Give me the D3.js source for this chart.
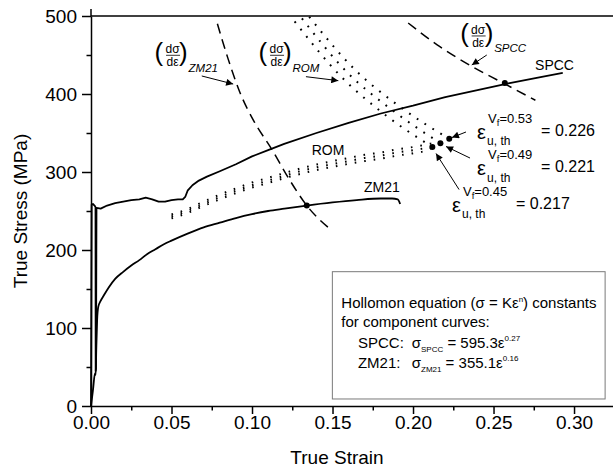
<!DOCTYPE html>
<html><head><meta charset="utf-8">
<script src="https://cdn.jsdelivr.net/npm/d3@7"></script>
<style>
body{margin:0;background:#fff}
svg{display:block}
text{font-family:"Liberation Sans",Arial,sans-serif;fill:#000}
</style>
</head><body>
<svg id="c" width="613" height="472"></svg>
<script>
// ---- tick labels ----
const xMajorTicks = [0, 0.05, 0.10, 0.15, 0.20, 0.25, 0.30];
const xMinorTicks = [0.025, 0.075, 0.125, 0.175, 0.225, 0.275];
const yMajorTicks = [0, 100, 200, 300, 400, 500];
const yMinorTicks = [50, 150, 250, 350, 450];

// ---- SPCC true stress-strain ----
const spccStrain = [0, 0.0004, 0.0012, 0.0022, 0.0028, 0.0029, 0.0031, 0.0034, 0.006, 0.010, 0.015, 0.020, 0.025, 0.030, 0.034, 0.038, 0.042, 0.046, 0.050, 0.054, 0.057, 0.0585, 0.060, 0.063, 0.067, 0.072, 0.08, 0.09, 0.10, 0.11, 0.12, 0.14, 0.16, 0.18, 0.20, 0.22, 0.24, 0.26, 0.28, 0.293];
const spccStress = [0, 258, 259, 257, 255, 45, 48, 254, 253, 257, 260, 262, 264, 265, 267, 265, 262, 262, 264, 265, 265, 268, 276, 283, 289, 294, 301, 310, 320, 328, 336, 350, 363, 375, 385, 396, 405, 414, 422, 427];

// ---- ZM21 true stress-strain ----
const zm21Strain = [0, 0.0012, 0.0025, 0.0029, 0.0033, 0.0038, 0.0045, 0.0058, 0.008, 0.011, 0.015, 0.02, 0.025, 0.03, 0.035, 0.04, 0.045, 0.05, 0.06, 0.07, 0.08, 0.09, 0.10, 0.11, 0.12, 0.134, 0.15, 0.165, 0.18, 0.187, 0.1905, 0.192];
const zm21Stress = [0, 20, 42, 40, 75, 110, 127, 134, 142, 152, 163, 172, 180, 187, 195, 201, 207, 212, 221, 229, 235, 241, 246, 250, 253, 257, 261, 264, 266, 266, 265, 259];

// ---- ROM curves (Vf = 0.45, 0.49, 0.53) ----
const romStrain45 = [0.05,0.06,0.07,0.08,0.09,0.10,0.11,0.12,0.13,0.14,0.15,0.16,0.17,0.18,0.19,0.20,0.21,0.212];
const romStress45 = [240.5,247.5,256.5,265,273,280,286,292,297.5,302.5,306.5,310.5,314,317,321,324,329,332];
const romStrain49 = [0.05,0.06,0.07,0.08,0.09,0.10,0.11,0.12,0.13,0.14,0.15,0.16,0.17,0.18,0.19,0.20,0.21,0.217];
const romStress49 = [243,250,259,268,276,283,289,295,301,306,310,314,318,321,325,328,332,337];
const romStrain53 = [0.05,0.06,0.07,0.08,0.09,0.10,0.11,0.12,0.13,0.14,0.15,0.16,0.17,0.18,0.19,0.20,0.21,0.22,0.2225];
const romStress53 = [245.5,252.5,262,271,279,286.5,292.5,298.5,304.5,309.5,314,318,322,325,329,332,336,340,342.5];

// ---- d(sigma)/d(eps) curves ----
const dZmStrain = [0.0785, 0.085, 0.0925, 0.1015, 0.112, 0.123, 0.134, 0.149];
const dZmStress = [490, 446, 402, 364, 330, 291, 257, 226];
const dSpStrain = [0.197, 0.215, 0.2335, 0.256, 0.276];
const dSpStress = [491, 463, 439, 414, 392];
const dRom45Strain = [0.1265, 0.155, 0.181, 0.212];
const dRom45Stress = [493, 423, 376, 332];
const dRom49Strain = [0.131, 0.159, 0.186, 0.217];
const dRom49Stress = [497, 428, 381, 337];
const dRom53Strain = [0.1355, 0.164, 0.191, 0.2225];
const dRom53Stress = [499, 431, 385, 342.5];

// ---- intersection points ----
const dotStrain = [0.134, 0.257, 0.212, 0.217, 0.2225];
const dotStress = [257, 414, 332, 337, 342.5];

// ---- annotations (data coords) ----
const arrowFrom = [[0.0688,423.1],[0.1335,422.2],[0.2458,450],[0.2329,351.3],[0.2354,317.9],[0.2286,277.5]];
const arrowTo   = [[0.0883,412.8],[0.1536,417.1],[0.2365,437.2],[0.2242,344.2],[0.2205,332.7],[0.2143,323.7]];
const curveLabels = ["SPCC", "ROM", "ZM21"];
const curveLabelPos = [[0.2758,430.8],[0.1371,321.8],[0.1696,274.4]];
const derivSubs = ["ZM21", "ROM", "SPCC"];
const derivPos = [[0.0404,449.6],[0.105,449.6],[0.2302,474.4]];
const epsVf = ["0.53", "0.49", "0.45"];
const epsVal = ["0.226", "0.221", "0.217"];
const epsPos = [[0.2398,346.2],[0.2398,299.4],[0.2242,252.8]];
const boxCorners = [[0.1499,172.2],[0.3193,9]];

const svg = d3.select("#c");
const x = d3.scaleLinear().domain([0, 0.3242]).range([91, 613]);
const y = d3.scaleLinear().domain([0, 500]).range([406, 16]);

const defs = svg.append("defs");
defs.append("marker").attr("id","ah").attr("viewBox","0 0 10 10")
  .attr("refX",10).attr("refY",5).attr("markerWidth",10).attr("markerHeight",7)
  .attr("markerUnits","userSpaceOnUse").attr("orient","auto")
  .append("path").attr("d","M0,0 L10,5 L0,10 z").attr("fill","#000");

// legend box
svg.append("rect")
  .attr("x", x(boxCorners[0][0])).attr("y", y(boxCorners[0][1]))
  .attr("width", x(boxCorners[1][0]) - x(boxCorners[0][0]))
  .attr("height", y(boxCorners[1][1]) - y(boxCorners[0][1]))
  .attr("fill","#fff").attr("stroke","#7a7a7a").attr("stroke-width",1);

// axes
function styleAxis(g, fs){
  g.attr("font-family", '"Liberation Sans",Arial,sans-serif').attr("font-size", fs);
  g.selectAll("path.domain").attr("stroke","#000").attr("stroke-width",1.5);
  g.selectAll(".tick line").attr("stroke","#000").attr("stroke-width",1.5);
  g.selectAll(".tick text").attr("fill","#000");
}
const gxMinor = svg.append("g").attr("transform",`translate(0,${y(0)})`)
  .call(d3.axisBottom(x).tickValues(xMinorTicks).tickFormat("").tickSize(4.5).tickSizeOuter(0));
styleAxis(gxMinor, 19); gxMinor.select("path.domain").remove();
const gyMinor = svg.append("g").attr("transform",`translate(${x(0)},0)`)
  .call(d3.axisLeft(y).tickValues(yMinorTicks).tickFormat("").tickSize(4.5).tickSizeOuter(0));
styleAxis(gyMinor, 19); gyMinor.select("path.domain").remove();

const gx = svg.append("g").attr("transform",`translate(0,${y(0)})`)
  .call(d3.axisBottom(x).tickValues(xMajorTicks).tickFormat(d3.format(".2f")).tickSize(8).tickPadding(2).tickSizeOuter(0));
styleAxis(gx, 19);
const gy = svg.append("g").attr("transform",`translate(${x(0)},0)`)
  .call(d3.axisLeft(y).tickValues(yMajorTicks).tickFormat(d3.format("d")).tickSize(9).tickPadding(5).tickSizeOuter(0));
styleAxis(gy, 19);

// top frame line & y-axis extension
svg.append("line").attr("x1",x(0)).attr("x2",x(x.domain()[1])).attr("y1",y(500)).attr("y2",y(500))
  .attr("stroke","#000").attr("stroke-width",1.5);
svg.append("line").attr("x1",x(0)).attr("x2",x(0)).attr("y1",y(500)).attr("y2",y(500)-7)
  .attr("stroke","#000").attr("stroke-width",1.5);

// axis titles
svg.append("text").attr("x", 337).attr("y", 464).attr("text-anchor","middle")
  .attr("font-size",19).text("True Strain");
svg.append("text").attr("transform","translate(27,211) rotate(-90)").attr("text-anchor","middle")
  .attr("font-size",19).text("True Stress (MPa)");

// curve drawing helper
function drawCurve(xs, ys, opts){
  const pts = xs.map((d,i)=>[d, ys[i]]);
  const line = d3.line().x(d=>x(d[0])).y(d=>y(d[1])).curve(opts.curve || d3.curveLinear);
  svg.append("path").datum(pts).attr("d", line).attr("fill","none")
    .attr("stroke","#000").attr("stroke-width", opts.w || 1.8)
    .attr("stroke-dasharray", opts.dash || null)
    .attr("stroke-linejoin","round");
}
drawCurve(zm21Strain, zm21Stress, {w:1.8, curve:d3.curveMonotoneX});
drawCurve(spccStrain, spccStress, {w:1.8});
[[romStrain45,romStress45],[romStrain49,romStress49],[romStrain53,romStress53]].forEach(s=>
  drawCurve(s[0], s[1], {w:2, dash:"1.6,8", curve:d3.curveMonotoneX}));
drawCurve(dZmStrain, dZmStress, {w:1.5, dash:"10,6", curve:d3.curveMonotoneX});
drawCurve(dSpStrain, dSpStress, {w:1.5, dash:"10,6", curve:d3.curveMonotoneX});
[[dRom45Strain,dRom45Stress],[dRom49Strain,dRom49Stress],[dRom53Strain,dRom53Stress]].forEach(s=>
  drawCurve(s[0], s[1], {w:2, dash:"1.8,7.5", curve:d3.curveMonotoneX}));

// dots
svg.selectAll("circle.pt").data(dotStrain).enter().append("circle")
  .attr("cx",(d)=>x(d)).attr("cy",(d,i)=>y(dotStress[i])).attr("r",3).attr("fill","#000");

// arrows
arrowFrom.forEach((f,i)=>{
  svg.append("line").attr("x1",x(f[0])).attr("y1",y(f[1]))
    .attr("x2",x(arrowTo[i][0])).attr("y2",y(arrowTo[i][1]))
    .attr("stroke","#000").attr("stroke-width",1).attr("marker-end","url(#ah)");
});

// curve labels
curveLabels.forEach((t,i)=>{
  svg.append("text").attr("x",x(curveLabelPos[i][0])).attr("y",y(curveLabelPos[i][1]))
    .attr("font-size",14).text(t);
});

// derivative labels (dσ/dε)_sub
derivSubs.forEach((s,i)=>{
  const g = svg.append("g").attr("transform",`translate(${x(derivPos[i][0])},${y(derivPos[i][1])})`);
  g.append("text").attr("x",-1.5).attr("y",6).attr("font-size",26).text("(");
  g.append("text").attr("x",16.5).attr("y",-2).attr("font-size",12).attr("text-anchor","middle").text("dσ");
  g.append("line").attr("x1",10).attr("x2",24).attr("y1",0).attr("y2",0).attr("stroke","#000").attr("stroke-width",0.8);
  g.append("text").attr("x",16.5).attr("y",11).attr("font-size",12).attr("text-anchor","middle").text("dε");
  g.append("text").attr("x",23).attr("y",6).attr("font-size",26).text(")");
  g.append("text").attr("x",32.5).attr("y",16.5).attr("font-size",11.5).attr("font-style","italic").text(s);
});

// epsilon labels
epsVf.forEach((v,i)=>{
  const g = svg.append("g").attr("transform",`translate(${x(epsPos[i][0])},${y(epsPos[i][1])})`);
  g.append("text").attr("x",0).attr("y",3).attr("font-size",20).text("ε");
  const sup = g.append("text").attr("x",11).attr("y",-13).attr("font-size",13);
  sup.append("tspan").text("V");
  sup.append("tspan").attr("font-size",9.5).attr("dy",3).text("f");
  sup.append("tspan").attr("dy",-3).text("=" + v);
  g.append("text").attr("x",10).attr("y",9.5).attr("font-size",12).text("u, th");
  g.append("text").attr("x",64).attr("y",0).attr("font-size",16).text("= " + epsVal[i]);
});

// legend text
const bx = x(0.1555), bx2 = x(0.1658), bsig = x(0.1992);
const t1 = svg.append("text").attr("x",bx).attr("y",y(125.6)).attr("font-size",15);
t1.append("tspan").text("Hollomon equation (σ = Kε");
t1.append("tspan").attr("font-size",8).attr("dy",-6).text("n");
t1.append("tspan").attr("dy",6).text(") constants");
svg.append("text").attr("x",bx).attr("y",y(101.3)).attr("font-size",15).text("for component curves:");
function eqLine(sig, name, k, n){
  const t = svg.append("text").attr("y",y(sig)).attr("font-size",15);
  t.append("tspan").attr("x",bx2).text(name + ":");
  t.append("tspan").attr("x",bsig).text("σ");
  t.append("tspan").attr("font-size",8).attr("dy",4).text(name);
  t.append("tspan").attr("dy",-4).text(" = " + k + "ε");
  t.append("tspan").attr("font-size",8).attr("dy",-7).text(n);
}
eqLine(74.4, "SPCC", "595.3", "0.27");
eqLine(48.7, "ZM21", "355.1", "0.16");
</script>
</body></html>
